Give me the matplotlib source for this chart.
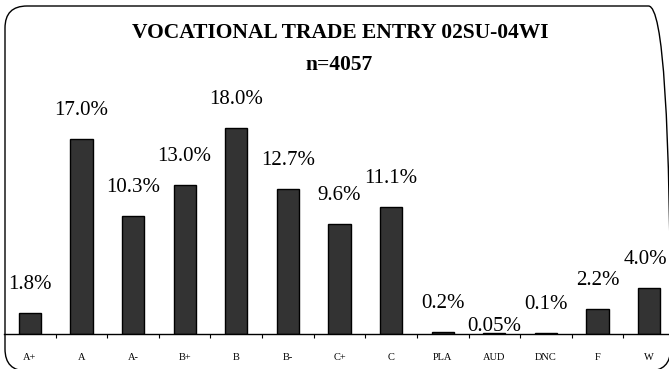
import matplotlib
matplotlib.use("Agg")
import matplotlib.pyplot as plt
from matplotlib.patches import FancyBboxPatch
from matplotlib.transforms import IdentityTransform
import numpy as np

grades = ['A+', 'A', 'A-', 'B+', 'B', 'B-', 'C+', 'C', 'PLA', 'AUD', 'DNC', 'F', 'W']
pct = [1.8, 17.0, 10.3, 13.0, 18.0, 12.7, 9.6, 11.1, 0.2, 0.05, 0.1, 2.2, 4.0]
labels = ['1.8%', '17.0%', '10.3%', '13.0%', '18.0%', '12.7%', '9.6%', '11.1%',
          '0.2%', '0.05%', '0.1%', '2.2%', '4.0%']

title = 'VOCATIONAL TRADE ENTRY 02SU-04WI'
subtitle = 'n=4057'

plt.rcParams['font.family'] = ['Liberation Serif', 'DejaVu Serif']

W, H = 669, 369
fig = plt.figure(figsize=(W / 100, H / 100), dpi=100)

# plot area in pixels: x 4..675 (runs past the right edge), baseline at y=334
ax = fig.add_axes([4 / W, 35 / H, 671 / W, 229 / H])
x = np.arange(len(grades))
ax.bar(x, pct, width=0.43, color='#333333', edgecolor='black', linewidth=1.0)

for xi, v, lab in zip(x, pct, labels):
    dx, dy = 0, 17.3
    if lab == '0.05%':
        dy = 1.5    # this one sits right on the axis
    if xi == len(grades) - 1:
        dx = -2.5   # keep the last label inside the frame
    ax.annotate(lab, (xi, v), xytext=(dx, dy), textcoords='offset points',
                ha='center', va='baseline', fontsize=15, color='black')

ax.set_xlim(-0.5, len(grades) - 0.5)
ax.set_ylim(0, 20)
ax.set_yticks([])
for s in ['left', 'right', 'top']:
    ax.spines[s].set_visible(False)
ax.spines['bottom'].set_linewidth(1.0)

ax.set_xticks(x)
ax.set_xticklabels(grades, fontsize=7.5)
ax.tick_params(axis='x', which='major', length=0, pad=13.5)
ax.set_xticks(x[:-1] + 0.5, minor=True)
ax.tick_params(axis='x', which='minor', length=3, width=0.8, direction='out')

fig.text(340 / W, 1 - 38 / H, title, ha='center', va='baseline',
         fontsize=15.5, fontweight='bold')
fig.text(339 / W, 1 - 70 / H, subtitle, ha='center', va='baseline',
         fontsize=15.5, fontweight='bold')

# rounded frame around the whole chart (right and bottom edges run off the image)
frame = FancyBboxPatch((5, H - 371), 665.5, 365,
                       boxstyle='round,pad=0,rounding_size=22',
                       transform=IdentityTransform(), fill=False,
                       edgecolor='black', linewidth=1.0)
fig.patches.append(frame)

fig.savefig('out.png', dpi=100)
